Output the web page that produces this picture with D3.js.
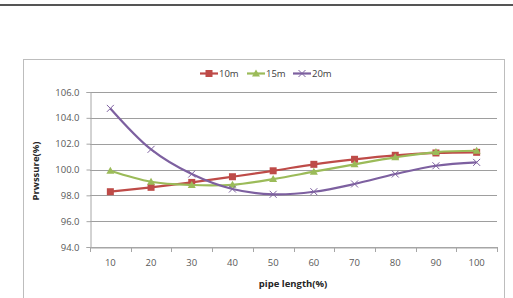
<!DOCTYPE html>
<html><head><meta charset="utf-8">
<script src="https://cdn.jsdelivr.net/npm/d3@7"></script>
<style>body{margin:0;background:#fff}svg{display:block}text{font-family:"Open Sans","Liberation Sans",sans-serif}</style>
</head><body><svg id="c" width="513" height="298"></svg>
<script>
const categories = [10,20,30,40,50,60,70,80,90,100];
const s10 = [98.28,98.62,99.0,99.44,99.9,100.4,100.79,101.1,101.28,101.33];
const s15 = [99.9,99.05,98.8,98.82,99.26,99.83,100.4,100.94,101.35,101.45];
const s20 = [104.73,101.56,99.65,98.49,98.08,98.28,98.88,99.65,100.29,100.55];
const yTicks = [94,96,98,100,102,104,106];
const seriesNames = ["10m","15m","20m"];
const colors = ["#BE4B48","#9BBB59","#7D60A0"];

const svg = d3.select("#c");
svg.append("line").attr("x1",0).attr("x2",513).attr("y1",5).attr("y2",5).attr("stroke","#555").attr("stroke-width",2);
svg.append("rect").attr("x",23.5).attr("y",59.5).attr("width",481).attr("height",260).attr("fill","none").attr("stroke","#bdbdbd");

const x = d3.scaleBand().domain(categories).range([90,497]);
const y = d3.scaleLinear().domain([94,106]).range([247,92]);

svg.append("g").selectAll("line").data(yTicks).join("line")
  .attr("x1",90).attr("x2",497).attr("y1",d=>Math.round(y(d))+0.5).attr("y2",d=>Math.round(y(d))+0.5)
  .attr("stroke",d=>d===94?"#a6a6a6":"#9e9e9e");

const ya = svg.append("g").attr("transform","translate(90.5,0)")
  .call(d3.axisLeft(y).tickValues(yTicks).tickSize(4).tickPadding(7).tickFormat(d3.format(".1f")));
ya.select(".domain").attr("stroke","#a6a6a6");
ya.selectAll(".tick line").attr("stroke","#a6a6a6");
ya.selectAll("text").attr("fill","#595959").attr("font-size",9.5);

const xa = svg.append("g").attr("transform","translate(0,247.5)")
  .call(d3.axisBottom(x).tickSize(0).tickPadding(12));
xa.select(".domain").attr("stroke","#a6a6a6");
xa.selectAll("text").attr("fill","#595959").attr("font-size",9.5);
svg.append("g").selectAll("line").data(categories.concat(["end"])).join("line")
  .attr("x1",(d,i)=>Math.round(i<categories.length?x(d):x.range()[1])+0.5)
  .attr("x2",(d,i)=>Math.round(i<categories.length?x(d):x.range()[1])+0.5)
  .attr("y1",247).attr("y2",252).attr("stroke","#a6a6a6");

svg.append("text").attr("x",293).attr("y",287).attr("text-anchor","middle")
  .attr("font-size",9.5).attr("font-weight","bold").attr("fill","#262626").text("pipe length(%)");
svg.append("text").attr("transform","translate(39,171) rotate(-90)").attr("text-anchor","middle")
  .attr("font-size",9.5).attr("font-weight","bold").attr("fill","#262626").text("Prwssure(%)");

const data = [s10,s15,s20];
const line = d3.line().x((d,i)=>x(categories[i])+x.bandwidth()/2).y(d=>y(d)).curve(d3.curveCatmullRom.alpha(0.5));
function marker(g, k, cx, cy){
  if(k===0){
    g.append("rect").attr("x",cx-3.5).attr("y",cy-3.5).attr("width",7).attr("height",7).attr("fill",colors[0]);
  } else if(k===1){
    g.append("path").attr("d",`M${cx},${cy-4}L${cx+4},${cy+3}L${cx-4},${cy+3}Z`).attr("fill",colors[1]);
  } else {
    g.append("path").attr("d",`M${cx-3.5},${cy-3.5}L${cx+3.5},${cy+3.5}M${cx+3.5},${cy-3.5}L${cx-3.5},${cy+3.5}`).attr("stroke",colors[2]).attr("stroke-width",1).attr("fill","none");
  }
}
data.forEach((vals,k)=>{
  const g = svg.append("g");
  g.append("path").datum(vals).attr("d",line).attr("fill","none").attr("stroke",colors[k]).attr("stroke-width",2.2);
  vals.forEach((v,i)=>marker(g,k,x(categories[i])+x.bandwidth()/2,y(v)));
});

const legX = [200,247,293];
seriesNames.forEach((n,k)=>{
  const g = svg.append("g");
  g.append("line").attr("x1",legX[k]).attr("x2",legX[k]+18).attr("y1",73.5).attr("y2",73.5).attr("stroke",colors[k]).attr("stroke-width",2.2);
  marker(g,k,legX[k]+9,73.5);
  g.append("text").attr("x",legX[k]+19).attr("y",77).attr("font-size",9.5).attr("fill","#404040").text(n);
});
</script></body></html>
